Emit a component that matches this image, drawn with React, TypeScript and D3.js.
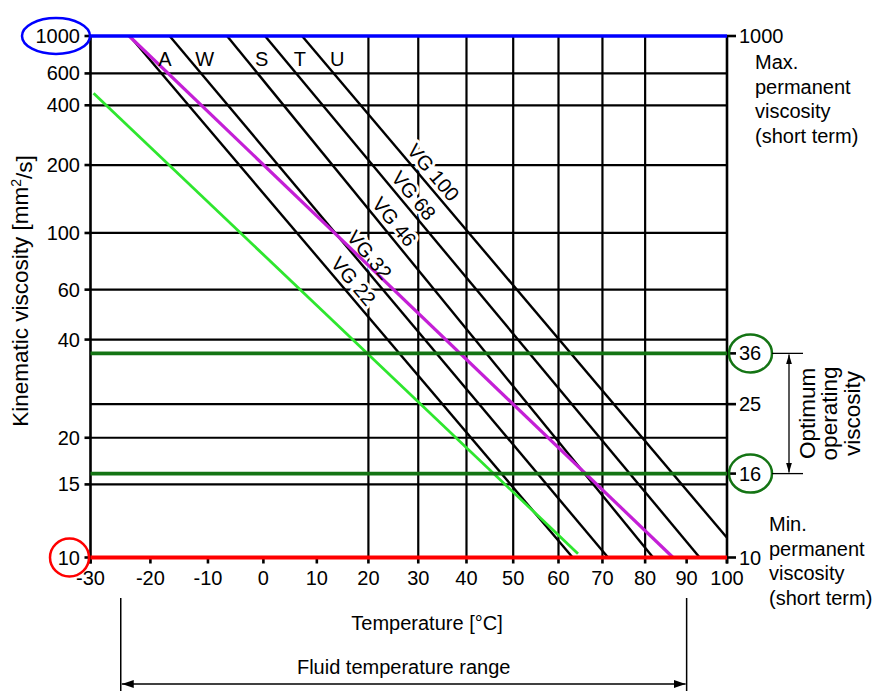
import * as d3 from "d3";

// values
const tempTicks = [-30, -20, -10, 0, 10, 20, 30, 40, 50, 60, 70, 80, 90, 100];
const tempGrid = [20, 30, 40, 50, 60, 70, 80];
const viscTicksLeft = [1000, 600, 400, 200, 100, 60, 40, 20, 15, 10];
const viscGrid = [600, 400, 200, 100, 60, 40, 25, 20, 15];
const viscTicksRight = [1000, 36, 25, 16, 10];
const oilGrades = ["VG 22", "VG 32", "VG 46", "VG 68", "VG 100"];
const oilLetters = ["A", "W", "S", "T", "U"];
// [temperature °C, viscosity mm²/s] at both ends of each grade line
const oilStart = [[-23.5, 1000], [-16.7, 1000], [-6.6, 1000], [0.3, 1000], [7.2, 1000]];
const oilEnd = [[63.2, 10], [71.3, 10], [81.9, 10], [93.2, 10], [100, 11.1]];
const oilLabelTemp = [15.3, 18.4, 23.3, 27.2, 31.2];
const magentaOil = [[-23.6, 1000], [86.7, 10]];
const greenOil = [[-29.5, 465], [64.4, 10.2]];
const maxVisc = 1000;
const minVisc = 10;
const optimumVisc = [36, 16];
const fluidRange = [-25, 90];

const W = 875, H = 691;
const left = 90.5, right = 727, top = 36, bottom = 557.5;
const K = 273.15;
const FONT = "'Liberation Sans', Arial, sans-serif";
const DKGREEN = "#147414";

// Ubbelohde-Walther chart: x ~ log(T abs), y ~ log log (v + 0.7)
const walther = (v: number) => Math.log10(Math.log10(v + 0.7));
const xs = d3.scaleLog().domain([tempTicks[0] + K, tempTicks[tempTicks.length - 1] + K]).range([left, right]);
const ys = d3.scaleLinear().domain([walther(minVisc), walther(maxVisc)]).range([bottom, top]);
const X = (t: number) => xs(t + K);
const Y = (v: number) => ys(walther(v));
const line = d3.line<number[]>().x(d => X(d[0])).y(d => Y(d[1]));

function App() {
  const grades = oilGrades.map((name, i) => {
    const [t0, v0] = oilStart[i], [t1, v1] = oilEnd[i];
    const x0 = X(t0), y0 = Y(v0), x1 = X(t1), y1 = Y(v1);
    const ang = Math.atan2(y1 - y0, x1 - x0);
    const lx = X(oilLabelTemp[i]);
    const ly = y0 + (lx - x0) / (x1 - x0) * (y1 - y0);
    const cx = lx + 12 * Math.sin(ang), cy = ly - 12 * Math.cos(ang);
    // top letter sits just right of the line
    const ty = Y(730);
    const tx = x0 + (ty - y0) / (y1 - y0) * (x1 - x0) + 16;
    return { name, letter: oilLetters[i], d: line([oilStart[i], oilEnd[i]]), cx, cy, deg: ang * 180 / Math.PI, tx, ty };
  });

  const yTitle = 291;
  const optTop = Y(optimumVisc[0]), optBot = Y(optimumVisc[1]);
  const fx0 = X(fluidRange[0]), fx1 = X(fluidRange[1]);
  const labelPos = (g) => `translate(${g.cx},${g.cy}) rotate(${g.deg})`;

  return (
    <svg width={W} height={H} style={{ display: "block", fontFamily: FONT }}>
      <style>{`body{margin:0}`}</style>
      <defs>
        <marker id="ah" viewBox="0 0 12 8" refX="12" refY="4" markerWidth="12" markerHeight="8" orient="auto-start-reverse" markerUnits="userSpaceOnUse">
          <path d="M0,0 L12,4 L0,8 z" fill="black" />
        </marker>
        <marker id="ahs" viewBox="0 0 10 6" refX="10" refY="3" markerWidth="10" markerHeight="6" orient="auto-start-reverse" markerUnits="userSpaceOnUse">
          <path d="M0,0 L10,3 L0,6 z" fill="black" />
        </marker>
      </defs>

      {/* grid */}
      <g stroke="black" strokeWidth={2.2}>
        {viscGrid.map(v => <line key={v} x1={left} x2={right} y1={Y(v)} y2={Y(v)} />)}
        {tempGrid.map(t => <line key={t} x1={X(t)} x2={X(t)} y1={top} y2={bottom} />)}
      </g>

      {/* axes */}
      <g stroke="black" strokeWidth={2.6}>
        <line x1={left} x2={left} y1={top} y2={bottom + 6} />
        <line x1={right} x2={right} y1={top} y2={bottom + 6} />
        {viscTicksLeft.map(v => <line key={v} x1={left - 6} x2={left} y1={Y(v)} y2={Y(v)} />)}
        {viscTicksRight.map(v => <line key={v} x1={right} x2={right + 9} y1={Y(v)} y2={Y(v)} />)}
        {tempTicks.map(t => <line key={t} x1={X(t)} x2={X(t)} y1={bottom} y2={bottom + 6} />)}
      </g>

      {/* grade lines */}
      <g fill="none" stroke="black" strokeWidth={2.4}>
        {grades.map(g => <path key={g.name} d={g.d || ""} />)}
      </g>

      {/* white halo behind grade labels */}
      <g fontSize={20} textAnchor="middle" fill="white" stroke="white" strokeWidth={6} strokeLinejoin="round">
        {grades.map(g => <text key={g.name} transform={labelPos(g)} dy="0.35em">{g.name}</text>)}
      </g>

      <path d={line(greenOil) || ""} fill="none" stroke="#2ee62e" strokeWidth={2.8} />
      <path d={line(magentaOil) || ""} fill="none" stroke="#c41fd6" strokeWidth={3.2} />

      {/* limit lines */}
      <line x1={left} x2={right} y1={Y(maxVisc)} y2={Y(maxVisc)} stroke="#0000ff" strokeWidth={3.6} />
      {optimumVisc.map(v => <line key={v} x1={left} x2={right} y1={Y(v)} y2={Y(v)} stroke={DKGREEN} strokeWidth={3.6} />)}
      <line x1={left} x2={right} y1={Y(minVisc)} y2={Y(minVisc)} stroke="#ff0000" strokeWidth={4.2} />

      {/* grade labels */}
      <g fontSize={20} textAnchor="middle">
        {grades.map(g => <text key={g.name} transform={labelPos(g)} dy="0.35em">{g.name}</text>)}
        {grades.map(g => <text key={g.letter} x={g.tx} y={g.ty} dy="0.35em">{g.letter}</text>)}
      </g>

      {/* tick labels */}
      <g fontSize={20}>
        {viscTicksLeft.map(v => <text key={v} x={80} y={Y(v)} dy="0.35em" textAnchor="end">{v}</text>)}
        {viscTicksRight.map(v => <text key={v} x={right + 12} y={Y(v)} dy="0.35em">{v}</text>)}
        {tempTicks.map(t => <text key={t} x={X(t)} y={578} dy="0.35em" textAnchor="middle">{t}</text>)}
      </g>

      {/* highlighted values */}
      <ellipse cx={56} cy={Y(maxVisc)} rx={34} ry={18} fill="none" stroke="#0000ff" strokeWidth={2.5} />
      <ellipse cx={69.5} cy={Y(minVisc)} rx={19.5} ry={19} fill="none" stroke="#ff0000" strokeWidth={2.5} />
      {optimumVisc.map(v => <ellipse key={v} cx={750.5} cy={Y(v)} rx={21.5} ry={19} fill="none" stroke={DKGREEN} strokeWidth={2.5} />)}

      {/* right notes */}
      <g fontSize={20}>
        {["Max.", "permanent", "viscosity", "(short term)"].map((s, i) => (
          <text key={s} x={755} y={62 + i * 24.7} dy="0.35em">{s}</text>
        ))}
        {["Min.", "permanent", "viscosity", "(short term)"].map((s, i) => (
          <text key={s} x={769} y={524 + i * 24.7} dy="0.35em">{s}</text>
        ))}
      </g>

      {/* optimum range dimension */}
      <g stroke="black" strokeWidth={1.3}>
        <line x1={772} x2={803} y1={optTop} y2={optTop} />
        <line x1={772} x2={803} y1={optBot} y2={optBot} />
        <line x1={789} x2={789} y1={optTop + 1} y2={optBot - 1} markerStart="url(#ahs)" markerEnd="url(#ahs)" />
      </g>
      <g fontSize={22.5} textAnchor="middle">
        {["Optimum", "operating", "viscosity"].map((s, i) => (
          <text key={s} transform={`translate(${807 + i * 22.5},${(optTop + optBot) / 2}) rotate(-90)`} dy="0.35em">{s}</text>
        ))}
      </g>

      {/* axis titles */}
      <text transform={`translate(20,${yTitle}) rotate(-90)`} fontSize={22.5} textAnchor="middle" dy="0.35em">
        Kinematic viscosity [mm<tspan fontSize={14} dy="-0.5em">2</tspan><tspan dy="0.5em">/s]</tspan>
      </text>
      <text x={427} y={623} fontSize={20} textAnchor="middle" dy="0.35em">Temperature [°C]</text>

      {/* fluid temperature range */}
      <g stroke="black" strokeWidth={1.5}>
        <line x1={fx0} x2={fx0} y1={598} y2={H} />
        <line x1={fx1} x2={fx1} y1={598} y2={H} />
        <line x1={fx0 + 1} x2={fx1 - 1} y1={684} y2={684} markerStart="url(#ah)" markerEnd="url(#ah)" />
      </g>
      <text x={(fx0 + fx1) / 2} y={667} fontSize={20} textAnchor="middle" dy="0.35em">Fluid temperature range</text>
    </svg>
  );
}

export default App;
